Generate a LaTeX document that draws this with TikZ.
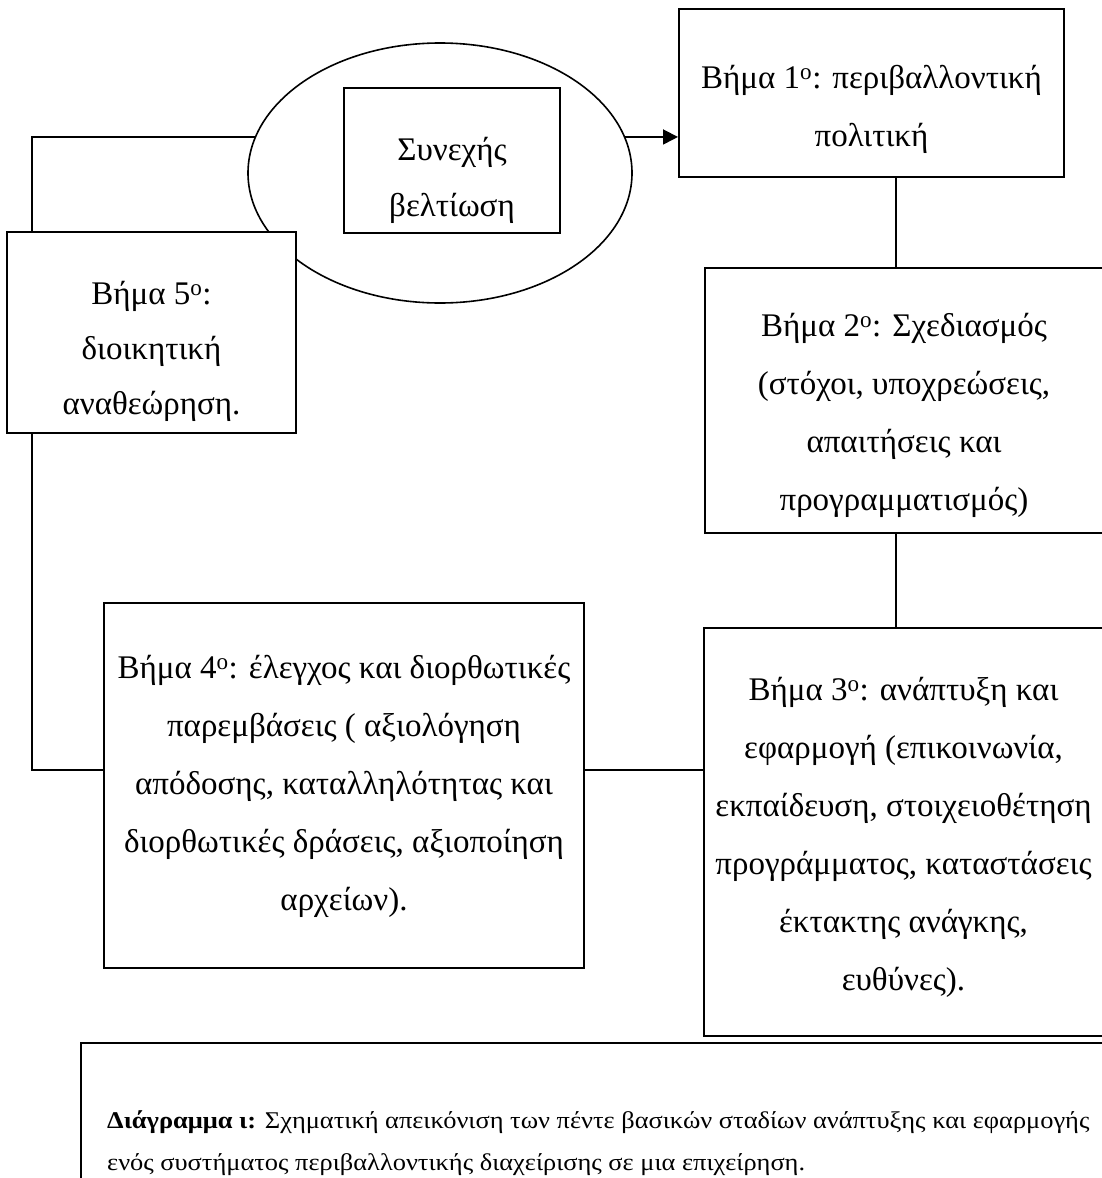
\documentclass[tikz,border=0pt]{standalone}
\usepackage{fontspec}
\setmainfont{Liberation Serif}
\newfontfamily\capfont{Liberation Serif}[FakeStretch=1.1]
\usetikzlibrary{shapes.geometric,arrows.meta}
\newcommand{\ord}[1]{#1\textsuperscript{o}}
\begin{document}
\begin{tikzpicture}[x=1pt,y=-1pt,
  stepbox/.style={draw, line width=2pt, fill=white, inner sep=0pt},
  steptext/.style={align=center, inner sep=0pt, font=\fontsize{33}{58}\selectfont},
  link/.style={line width=1.8pt},
  captext/.style={anchor=base west, inner sep=0pt, font=\capfont\fontsize{24}{28}\selectfont}]
\useasboundingbox (0,0) rectangle (1101,1178);

% cycle symbol with its label box
\node (ell) [ellipse, draw, line width=1.6pt, minimum width=384pt, minimum height=260pt] at (440,173) {};
\node (inner) [stepbox, minimum width=216pt, minimum height=145pt] at (452,160.5) {};
\node (innert) [steptext, font=\fontsize{33}{56}\selectfont] at ([yshift=-20pt]inner.center) {Συνεχής\\βελτίωση};

% the five steps
\node (box1) [stepbox, minimum width=385pt, minimum height=168pt] at (871.5,93) {};
\node (t1) [steptext] at ([yshift=-16pt]box1.center) {Βήμα \ord{1}: περιβαλλοντική\\πολιτική};

\node (box2) [stepbox, minimum width=398pt, minimum height=265pt] at (904,400.5) {};
\node (t2) [steptext] at ([yshift=-15pt]box2.center)
  {Βήμα \ord{2}: Σχεδιασμός\\(στόχοι, υποχρεώσεις,\\απαιτήσεις και\\προγραμματισμός)};

\node (box3) [stepbox, minimum width=399pt, minimum height=408pt] at (903.5,832) {};
\node (t3) [steptext] at ([yshift=-5pt]box3.center)
  {Βήμα \ord{3}: ανάπτυξη και\\εφαρμογή (επικοινωνία,\\εκπαίδευση, στοιχειοθέτηση\\προγράμματος, καταστάσεις\\έκτακτης ανάγκης,\\ευθύνες).};

\node (box4) [stepbox, minimum width=480pt, minimum height=365pt] at (344,785.5) {};
\node (t4) [steptext] at ([yshift=-1pt]box4.center)
  {Βήμα \ord{4}: έλεγχος και διορθωτικές\\παρεμβάσεις ( αξιολόγηση\\απόδοσης, καταλληλότητας και\\διορθωτικές δράσεις, αξιοποίηση\\αρχείων).};

\node (box5) [stepbox, minimum width=289pt, minimum height=201pt] at (151.5,332.5) {};
\node (t5) [steptext, font=\fontsize{33}{55}\selectfont] at ([yshift=-19pt]box5.center) {Βήμα \ord{5}:\\διοικητική\\αναθεώρηση.};

% connectors
\coordinate (vx) at (896,0);
\coordinate (lx) at (32,0);
\coordinate (row) at (0,770);
\draw[link] (ell.169) -| (box5.north -| lx);
\draw[link] (box5.south -| lx) |- (box4.west |- row);
\draw[link] (box4.east |- row) -- (box3.west |- row);
\draw[link] (box1.south -| vx) -- (box2.north -| vx);
\draw[link] (box2.south -| vx) -- (box3.north -| vx);
\draw[link, -{Triangle[length=15pt, width=15pt]}] (ell.11) -- (box1.west |- ell.11);

% caption
\node (cap) [draw, line width=1.8pt, anchor=north west, minimum width=1023pt, minimum height=160pt] at (80,1042) {};
\node (cap1) [captext] at (107,1128)
  {\textbf{Διάγραμμα ι:} Σχηματική απεικόνιση των πέντε βασικών σταδίων ανάπτυξης και εφαρμογής};
\node (cap2) [captext] at (107,1170)
  {ενός συστήματος περιβαλλοντικής διαχείρισης σε μια επιχείρηση.};
\end{tikzpicture}
\end{document}
